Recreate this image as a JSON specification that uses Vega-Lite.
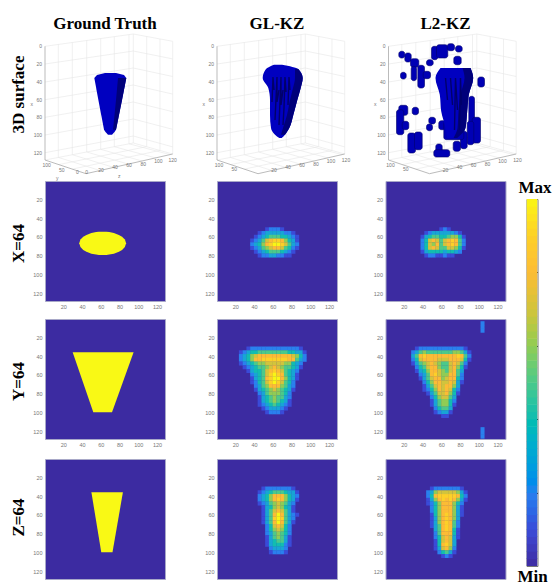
{"$schema":"https://vega.github.io/schema/vega-lite/v6.json","padding":{"left":8,"top":15,"right":0,"bottom":0},"background":"white",
"config":{"range":{"heatmap":["#3c2ba1","#3a4bd8","#2a80ee","#18a5d5","#12bdb0","#4cc98a","#90cc55","#d2c43c","#fcbc35","#fdd028","#f9f615"],"ramp":["#3c2ba1","#3a4bd8","#2a80ee","#18a5d5","#12bdb0","#4cc98a","#90cc55","#d2c43c","#fcbc35","#fdd028","#f9f615"]},"axis":{"grid":false,"domain":false,"ticks":false,"labelFontSize":5.5,"labelColor":"#777","labelPadding":3,"titleFont":"Liberation Serif","titleFontSize":17,"titleFontWeight":"bold","titleColor":"#000"},"title":{"font":"Liberation Serif","fontSize":17,"fontWeight":"bold","color":"#000","offset":-3},"legend":{"disable":true},"line":{"strokeWidth":0.6},"text":{"fontSize":5,"fill":"#777"}},
"datasets":{
"grid":[{"k":"z0","u":0,"v":16.3},{"k":"z0","u":88.3,"v":4},{"k":"z0","u":127.7,"v":11.3},{"k":"z1","u":0,"v":34},{"k":"z1","u":88.3,"v":21},{"k":"z1","u":127.7,"v":28.9},{"k":"z2","u":0,"v":52},{"k":"z2","u":88.3,"v":38},{"k":"z2","u":127.7,"v":46.5},{"k":"z3","u":0,"v":69.7},{"k":"z3","u":88.3,"v":55},{"k":"z3","u":127.7,"v":64.1},{"k":"z4","u":0,"v":87.3},{"k":"z4","u":88.3,"v":72},{"k":"z4","u":127.7,"v":81.7},{"k":"z5","u":0,"v":105},{"k":"z5","u":88.3,"v":89},{"k":"z5","u":127.7,"v":99.3},{"k":"z6","u":0,"v":122.7},{"k":"z6","u":88.3,"v":106},{"k":"z6","u":127.7,"v":116.9},{"k":"z7","u":0,"v":130},{"k":"z7","u":88.3,"v":113},{"k":"z7","u":127.7,"v":124},{"k":"a1","u":13.3,"v":14.4},{"k":"a1","u":13.3,"v":127.4},{"k":"a2","u":27.3,"v":12.5},{"k":"a2","u":27.3,"v":124.7},{"k":"a3","u":41.7,"v":10.5},{"k":"a3","u":41.7,"v":122},{"k":"a4","u":55.7,"v":8.5},{"k":"a4","u":55.7,"v":119.3},{"k":"a5","u":69.3,"v":6.7},{"k":"a5","u":69.3,"v":116.7},{"k":"a6","u":84,"v":4.6},{"k":"a6","u":84,"v":113.8},{"k":"a7","u":88.3,"v":4},{"k":"a7","u":88.3,"v":113},{"k":"a8","u":101.7,"v":6.5},{"k":"a8","u":101.7,"v":116.7},{"k":"a9","u":115,"v":9},{"k":"a9","u":115,"v":120.4},{"k":"a10","u":127.7,"v":11.3},{"k":"a10","u":127.7,"v":124},{"k":"f1","u":13.3,"v":127.4},{"k":"f1","u":55,"v":140.5},{"k":"f2","u":27.3,"v":124.7},{"k":"f2","u":69,"v":137.5},{"k":"f3","u":41.7,"v":122},{"k":"f3","u":83,"v":134},{"k":"f4","u":55.7,"v":119.3},{"k":"f4","u":97,"v":131},{"k":"f5","u":69.3,"v":116.7},{"k":"f5","u":111,"v":128},{"k":"f6","u":84,"v":113.8},{"k":"f6","u":125,"v":124.6},{"k":"h1","u":13.7,"v":134.6},{"k":"h1","u":101.4,"v":116.7},{"k":"h2","u":27.4,"v":139.1},{"k":"h2","u":115,"v":120.4}],
"axes":[{"k":"l","u":0,"v":16.3},{"k":"l","u":0,"v":130},{"k":"l","u":41,"v":143.7},{"k":"l","u":127.7,"v":124}],
"zlab":[{"u":-3,"v":16.3,"t":"0"},{"u":-3,"v":34,"t":"20"},{"u":-3,"v":52,"t":"40"},{"u":-3,"v":69.7,"t":"60"},{"u":-3,"v":87.3,"t":"80"},{"u":-3,"v":105,"t":"100"},{"u":-3,"v":122.7,"t":"120"}],
"lab1":[{"u":1.7,"v":135.3,"t":"100"},{"u":16.7,"v":139.7,"t":"50"},{"u":32.3,"v":141.7,"t":"0"},{"u":41.7,"v":142,"t":"0"},{"u":56,"v":139.7,"t":"20"},{"u":70,"v":137.3,"t":"40"},{"u":84,"v":135.3,"t":"60"},{"u":98.3,"v":133.7,"t":"80"},{"u":113.3,"v":131.3,"t":"100"},{"u":127.7,"v":129.7,"t":"120"},{"u":-13.3,"v":74,"t":"x"},{"u":12.3,"v":148,"t":"y"},{"u":74.3,"v":146.3,"t":"z"}],
"lab2":[{"u":2,"v":135.3,"t":"100"},{"u":17.3,"v":138.7,"t":"50"},{"u":57,"v":139.7,"t":"20"},{"u":71,"v":137.3,"t":"40"},{"u":85,"v":135.3,"t":"60"},{"u":99,"v":133.7,"t":"80"},{"u":114,"v":131.3,"t":"100"},{"u":129,"v":129.7,"t":"120"},{"u":-13.3,"v":74,"t":"x"}],
"cone":[{"s":"a","v":43,"u":60,"u2":71},{"s":"a","v":45,"u":52,"u2":79},{"s":"a","v":48,"u":49.3,"u2":81.3},{"s":"a","v":70,"u":53.4,"u2":77},{"s":"a","v":99.7,"u":59,"u2":71},{"s":"a","v":102,"u":60.5,"u2":69.5},{"s":"a","v":104.7,"u":63,"u2":67},{"s":"b","v":48,"u":73,"u2":81.3},{"s":"b","v":70,"u":71,"u2":77},{"s":"b","v":99.7,"u":68,"u2":71}],
"body2":[{"s":"a","v":34.7,"u":57,"u2":65},{"s":"a","v":39,"u":49,"u2":81.3},{"s":"a","v":48,"u":45.7,"u2":85.7},{"s":"a","v":58,"u":51.3,"u2":83.7},{"s":"a","v":70,"u":53,"u2":80.3},{"s":"a","v":85,"u":53,"u2":76.3},{"s":"a","v":98,"u":54,"u2":72.3},{"s":"a","v":104.7,"u":58,"u2":68},{"s":"a","v":108,"u":62.3,"u2":64.7},{"s":"b","v":39,"u":78,"u2":81.3},{"s":"b","v":48,"u":78,"u2":85.7},{"s":"b","v":58,"u":76,"u2":83.7},{"s":"b","v":70,"u":73,"u2":80.3},{"s":"b","v":85,"u":70,"u2":76.3},{"s":"b","v":98,"u":66,"u2":72.3},{"s":"b","v":104.7,"u":64,"u2":68}],
"ridge2":[{"k":"1","u":56,"v":47},{"k":"1","u":57,"v":60},{"k":"1","u":55,"v":72},{"k":"2","u":60,"v":47},{"k":"2","u":62,"v":60},{"k":"2","u":60,"v":72},{"k":"2","u":58,"v":90},{"k":"3","u":64,"v":47},{"k":"3","u":66,"v":60},{"k":"3","u":64,"v":75},{"k":"3","u":62,"v":95},{"k":"4","u":68,"v":47},{"k":"4","u":69,"v":62},{"k":"4","u":67,"v":78},{"k":"4","u":66,"v":95},{"k":"5","u":72,"v":47},{"k":"5","u":73,"v":60},{"k":"5","u":71,"v":75}],
"body3":[{"s":"a","v":38,"u":52,"u2":82},{"s":"a","v":48,"u":47,"u2":84.7},{"s":"a","v":64.7,"u":51.3,"u2":80.3},{"s":"a","v":81.3,"u":52.7,"u2":78.7},{"s":"a","v":98,"u":57,"u2":77},{"s":"a","v":108,"u":58.7,"u2":68.7},{"s":"b","v":38,"u":74,"u2":82},{"s":"b","v":48,"u":76,"u2":84.7},{"s":"b","v":64.7,"u":72,"u2":80.3},{"s":"b","v":81.3,"u":70,"u2":78.7},{"s":"b","v":98,"u":69,"u2":77},{"s":"b","v":108,"u":65,"u2":68.7}],
"ridge3":[{"k":"1","u":57,"v":48},{"k":"1","u":59,"v":70},{"k":"2","u":62,"v":48},{"k":"2","u":64,"v":75},{"k":"3","u":67,"v":48},{"k":"3","u":69,"v":80},{"k":"3","u":66,"v":100},{"k":"4","u":72,"v":48},{"k":"4","u":73,"v":75},{"k":"4","u":71,"v":100}],
"blobs":[{"u":10.3,"u2":16.3,"v":21.3,"v2":28},{"u":16.3,"u2":22.7,"v":23,"v2":32},{"u":22,"u2":30.3,"v":28.7,"v2":37.3},{"u":22.7,"u2":28,"v":36.3,"v2":50.7},{"u":29.3,"u2":36,"v":35.3,"v2":58},{"u":34.7,"u2":42,"v":41.3,"v2":48.7},{"u":12,"u2":17.7,"v":42.3,"v2":49},{"u":38,"u2":44.7,"v":29.7,"v2":35.7},{"u":43,"u2":49.3,"v":16.3,"v2":29.7},{"u":48,"u2":59.3,"v":14.7,"v2":28},{"u":58.7,"u2":66,"v":13.7,"v2":20.7},{"u":67,"u2":73.7,"v":15.7,"v2":22},{"u":65.3,"u2":72.7,"v":26.3,"v2":34.7},{"u":89.3,"u2":96,"v":47,"v2":57},{"u":10.3,"u2":19.3,"v":75.3,"v2":85.3},{"u":8,"u2":15.3,"v":79.7,"v2":104.7},{"u":13.7,"u2":20.3,"v":91.3,"v2":99.7},{"u":23.7,"u2":30,"v":77.3,"v2":84.7},{"u":40.3,"u2":47,"v":87.3,"v2":94},{"u":38,"u2":44,"v":94,"v2":100.7},{"u":19.3,"u2":27,"v":103,"v2":123},{"u":26,"u2":33.7,"v":102,"v2":119.7},{"u":47.3,"u2":53.7,"v":114,"v2":126.3},{"u":45.3,"u2":61.3,"v":119.7,"v2":127},{"u":50.3,"u2":57,"v":90.7,"v2":99.7},{"u":80.3,"u2":86,"v":66.3,"v2":94.7},{"u":83.7,"u2":92,"v":87.3,"v2":113},{"u":78.7,"u2":85.3,"v":91.3,"v2":114.7},{"u":72,"u2":78.7,"v":101.3,"v2":118.7},{"u":64.7,"u2":72,"v":111.3,"v2":121.3},{"u":55.3,"u2":75.3,"v":91.3,"v2":109.7}],
"ell":[{"y":54.6,"x":58,"x2":66},{"y":55,"x":55,"x2":69},{"y":56,"x":50,"x2":74},{"y":58,"x":44.7,"x2":79.3},{"y":60,"x":41.3,"x2":82.7},{"y":63,"x":38.3,"x2":85.7},{"y":67,"x":37,"x2":87},{"y":71,"x":38.3,"x2":85.7},{"y":74,"x":41.3,"x2":82.7},{"y":76,"x":44.7,"x2":79.3},{"y":78,"x":50,"x2":74},{"y":79,"x":55,"x2":69},{"y":79.4,"x":58,"x2":66}],
"ty":[{"y":36,"x":30,"x2":95},{"y":100,"x":52,"x2":72}],
"tz":[{"y":36,"x":50,"x2":83.6},{"y":100,"x":60.5,"x2":72.5}],
"xg":[{"x":54,"y":52,"v":1},{"x":58,"y":52,"v":2},{"x":62,"y":52,"v":2},{"x":66,"y":52,"v":2},{"x":70,"y":52,"v":1},{"x":46,"y":56,"v":1},{"x":50,"y":56,"v":2},{"x":54,"y":56,"v":3},{"x":58,"y":56,"v":3},{"x":62,"y":56,"v":3},{"x":66,"y":56,"v":3},{"x":70,"y":56,"v":3},{"x":74,"y":56,"v":2},{"x":78,"y":56,"v":2},{"x":82,"y":56,"v":1},{"x":42,"y":60,"v":1},{"x":46,"y":60,"v":2},{"x":50,"y":60,"v":3},{"x":54,"y":60,"v":4},{"x":58,"y":60,"v":5},{"x":62,"y":60,"v":5},{"x":66,"y":60,"v":5},{"x":70,"y":60,"v":4},{"x":74,"y":60,"v":4},{"x":78,"y":60,"v":3},{"x":82,"y":60,"v":2},{"x":86,"y":60,"v":1},{"x":38,"y":64,"v":1},{"x":42,"y":64,"v":2},{"x":46,"y":64,"v":3},{"x":50,"y":64,"v":5},{"x":54,"y":64,"v":7},{"x":58,"y":64,"v":8},{"x":62,"y":64,"v":9},{"x":66,"y":64,"v":9},{"x":70,"y":64,"v":8},{"x":74,"y":64,"v":6},{"x":78,"y":64,"v":4},{"x":82,"y":64,"v":3},{"x":86,"y":64,"v":1},{"x":38,"y":68,"v":2},{"x":42,"y":68,"v":3},{"x":46,"y":68,"v":4},{"x":50,"y":68,"v":6},{"x":54,"y":68,"v":8},{"x":58,"y":68,"v":9},{"x":62,"y":68,"v":10},{"x":66,"y":68,"v":10},{"x":70,"y":68,"v":9},{"x":74,"y":68,"v":7},{"x":78,"y":68,"v":5},{"x":82,"y":68,"v":3},{"x":86,"y":68,"v":2},{"x":38,"y":72,"v":1},{"x":42,"y":72,"v":2},{"x":46,"y":72,"v":3},{"x":50,"y":72,"v":5},{"x":54,"y":72,"v":6},{"x":58,"y":72,"v":7},{"x":62,"y":72,"v":8},{"x":66,"y":72,"v":8},{"x":70,"y":72,"v":7},{"x":74,"y":72,"v":5},{"x":78,"y":72,"v":4},{"x":82,"y":72,"v":2},{"x":86,"y":72,"v":1},{"x":42,"y":76,"v":1},{"x":46,"y":76,"v":2},{"x":50,"y":76,"v":3},{"x":54,"y":76,"v":4},{"x":58,"y":76,"v":5},{"x":62,"y":76,"v":5},{"x":66,"y":76,"v":5},{"x":70,"y":76,"v":4},{"x":74,"y":76,"v":3},{"x":78,"y":76,"v":2},{"x":82,"y":76,"v":1},{"x":46,"y":80,"v":1},{"x":50,"y":80,"v":2},{"x":54,"y":80,"v":2},{"x":58,"y":80,"v":3},{"x":62,"y":80,"v":3},{"x":66,"y":80,"v":2},{"x":70,"y":80,"v":2},{"x":74,"y":80,"v":1},{"x":78,"y":80,"v":1}],
"xl":[{"x":60,"y":52,"v":1},{"x":64,"y":52,"v":2},{"x":68,"y":52,"v":1},{"x":44,"y":56,"v":1},{"x":48,"y":56,"v":2},{"x":52,"y":56,"v":3},{"x":56,"y":56,"v":3},{"x":60,"y":56,"v":3},{"x":64,"y":56,"v":3},{"x":68,"y":56,"v":3},{"x":72,"y":56,"v":3},{"x":76,"y":56,"v":2},{"x":80,"y":56,"v":1},{"x":40,"y":60,"v":1},{"x":44,"y":60,"v":3},{"x":48,"y":60,"v":4},{"x":52,"y":60,"v":5},{"x":56,"y":60,"v":5},{"x":60,"y":60,"v":4},{"x":64,"y":60,"v":4},{"x":68,"y":60,"v":5},{"x":72,"y":60,"v":6},{"x":76,"y":60,"v":6},{"x":80,"y":60,"v":4},{"x":84,"y":60,"v":1},{"x":40,"y":64,"v":2},{"x":44,"y":64,"v":4},{"x":48,"y":64,"v":7},{"x":52,"y":64,"v":8},{"x":56,"y":64,"v":7},{"x":60,"y":64,"v":5},{"x":64,"y":64,"v":7},{"x":68,"y":64,"v":8},{"x":72,"y":64,"v":9},{"x":76,"y":64,"v":8},{"x":80,"y":64,"v":5},{"x":84,"y":64,"v":2},{"x":40,"y":68,"v":2},{"x":44,"y":68,"v":4},{"x":48,"y":68,"v":7},{"x":52,"y":68,"v":6},{"x":56,"y":68,"v":8},{"x":60,"y":68,"v":5},{"x":64,"y":68,"v":7},{"x":68,"y":68,"v":8},{"x":72,"y":68,"v":9},{"x":76,"y":68,"v":8},{"x":80,"y":68,"v":5},{"x":84,"y":68,"v":2},{"x":40,"y":72,"v":2},{"x":44,"y":72,"v":4},{"x":48,"y":72,"v":7},{"x":52,"y":72,"v":8},{"x":56,"y":72,"v":7},{"x":60,"y":72,"v":5},{"x":64,"y":72,"v":5},{"x":68,"y":72,"v":7},{"x":72,"y":72,"v":7},{"x":76,"y":72,"v":6},{"x":80,"y":72,"v":4},{"x":84,"y":72,"v":1},{"x":40,"y":76,"v":1},{"x":44,"y":76,"v":3},{"x":48,"y":76,"v":4},{"x":52,"y":76,"v":4},{"x":56,"y":76,"v":4},{"x":60,"y":76,"v":4},{"x":64,"y":76,"v":3},{"x":68,"y":76,"v":4},{"x":72,"y":76,"v":4},{"x":76,"y":76,"v":3},{"x":80,"y":76,"v":2},{"x":44,"y":80,"v":1},{"x":48,"y":80,"v":2},{"x":52,"y":80,"v":2},{"x":56,"y":80,"v":1},{"x":60,"y":80,"v":1},{"x":64,"y":80,"v":2},{"x":68,"y":80,"v":1},{"x":72,"y":80,"v":1}],
"yg":[{"x":34,"y":32,"v":1},{"x":38,"y":32,"v":2},{"x":42,"y":32,"v":2},{"x":46,"y":32,"v":2},{"x":50,"y":32,"v":2},{"x":54,"y":32,"v":2},{"x":58,"y":32,"v":2},{"x":62,"y":32,"v":2},{"x":66,"y":32,"v":2},{"x":70,"y":32,"v":2},{"x":74,"y":32,"v":2},{"x":78,"y":32,"v":2},{"x":82,"y":32,"v":2},{"x":86,"y":32,"v":2},{"x":90,"y":32,"v":1},{"x":26,"y":36,"v":1},{"x":30,"y":36,"v":2},{"x":34,"y":36,"v":3},{"x":38,"y":36,"v":4},{"x":42,"y":36,"v":4},{"x":46,"y":36,"v":5},{"x":50,"y":36,"v":5},{"x":54,"y":36,"v":5},{"x":58,"y":36,"v":5},{"x":62,"y":36,"v":5},{"x":66,"y":36,"v":5},{"x":70,"y":36,"v":5},{"x":74,"y":36,"v":5},{"x":78,"y":36,"v":4},{"x":82,"y":36,"v":4},{"x":86,"y":36,"v":3},{"x":90,"y":36,"v":3},{"x":94,"y":36,"v":1},{"x":26,"y":40,"v":2},{"x":30,"y":40,"v":3},{"x":34,"y":40,"v":4},{"x":38,"y":40,"v":6},{"x":42,"y":40,"v":7},{"x":46,"y":40,"v":8},{"x":50,"y":40,"v":8},{"x":54,"y":40,"v":8},{"x":58,"y":40,"v":8},{"x":62,"y":40,"v":8},{"x":66,"y":40,"v":8},{"x":70,"y":40,"v":8},{"x":74,"y":40,"v":8},{"x":78,"y":40,"v":8},{"x":82,"y":40,"v":7},{"x":86,"y":40,"v":6},{"x":90,"y":40,"v":4},{"x":94,"y":40,"v":2},{"x":26,"y":44,"v":2},{"x":30,"y":44,"v":3},{"x":34,"y":44,"v":4},{"x":38,"y":44,"v":6},{"x":42,"y":44,"v":8},{"x":46,"y":44,"v":8},{"x":50,"y":44,"v":9},{"x":54,"y":44,"v":9},{"x":58,"y":44,"v":9},{"x":62,"y":44,"v":9},{"x":66,"y":44,"v":9},{"x":70,"y":44,"v":9},{"x":74,"y":44,"v":9},{"x":78,"y":44,"v":8},{"x":82,"y":44,"v":8},{"x":86,"y":44,"v":5},{"x":90,"y":44,"v":3},{"x":94,"y":44,"v":2},{"x":26,"y":48,"v":1},{"x":30,"y":48,"v":2},{"x":34,"y":48,"v":3},{"x":38,"y":48,"v":4},{"x":42,"y":48,"v":5},{"x":46,"y":48,"v":6},{"x":50,"y":48,"v":6},{"x":54,"y":48,"v":7},{"x":58,"y":48,"v":7},{"x":62,"y":48,"v":7},{"x":66,"y":48,"v":7},{"x":70,"y":48,"v":7},{"x":74,"y":48,"v":6},{"x":78,"y":48,"v":6},{"x":82,"y":48,"v":4},{"x":86,"y":48,"v":3},{"x":90,"y":48,"v":2},{"x":30,"y":52,"v":1},{"x":34,"y":52,"v":2},{"x":38,"y":52,"v":3},{"x":42,"y":52,"v":4},{"x":46,"y":52,"v":5},{"x":50,"y":52,"v":5},{"x":54,"y":52,"v":6},{"x":58,"y":52,"v":7},{"x":62,"y":52,"v":8},{"x":66,"y":52,"v":7},{"x":70,"y":52,"v":6},{"x":74,"y":52,"v":5},{"x":78,"y":52,"v":5},{"x":82,"y":52,"v":4},{"x":86,"y":52,"v":3},{"x":90,"y":52,"v":1},{"x":34,"y":56,"v":1},{"x":38,"y":56,"v":3},{"x":42,"y":56,"v":4},{"x":46,"y":56,"v":4},{"x":50,"y":56,"v":5},{"x":54,"y":56,"v":7},{"x":58,"y":56,"v":8},{"x":62,"y":56,"v":9},{"x":66,"y":56,"v":8},{"x":70,"y":56,"v":7},{"x":74,"y":56,"v":5},{"x":78,"y":56,"v":4},{"x":82,"y":56,"v":3},{"x":86,"y":56,"v":2},{"x":38,"y":60,"v":2},{"x":42,"y":60,"v":3},{"x":46,"y":60,"v":4},{"x":50,"y":60,"v":5},{"x":54,"y":60,"v":7},{"x":58,"y":60,"v":9},{"x":62,"y":60,"v":10},{"x":66,"y":60,"v":9},{"x":70,"y":60,"v":8},{"x":74,"y":60,"v":5},{"x":78,"y":60,"v":4},{"x":82,"y":60,"v":3},{"x":86,"y":60,"v":1},{"x":38,"y":64,"v":1},{"x":42,"y":64,"v":3},{"x":46,"y":64,"v":4},{"x":50,"y":64,"v":5},{"x":54,"y":64,"v":8},{"x":58,"y":64,"v":9},{"x":62,"y":64,"v":10},{"x":66,"y":64,"v":10},{"x":70,"y":64,"v":8},{"x":74,"y":64,"v":6},{"x":78,"y":64,"v":4},{"x":82,"y":64,"v":3},{"x":86,"y":64,"v":1},{"x":38,"y":68,"v":1},{"x":42,"y":68,"v":2},{"x":46,"y":68,"v":4},{"x":50,"y":68,"v":5},{"x":54,"y":68,"v":7},{"x":58,"y":68,"v":9},{"x":62,"y":68,"v":10},{"x":66,"y":68,"v":9},{"x":70,"y":68,"v":7},{"x":74,"y":68,"v":5},{"x":78,"y":68,"v":4},{"x":82,"y":68,"v":2},{"x":42,"y":72,"v":2},{"x":46,"y":72,"v":3},{"x":50,"y":72,"v":5},{"x":54,"y":72,"v":6},{"x":58,"y":72,"v":8},{"x":62,"y":72,"v":8},{"x":66,"y":72,"v":8},{"x":70,"y":72,"v":6},{"x":74,"y":72,"v":5},{"x":78,"y":72,"v":3},{"x":82,"y":72,"v":2},{"x":42,"y":76,"v":1},{"x":46,"y":76,"v":3},{"x":50,"y":76,"v":4},{"x":54,"y":76,"v":5},{"x":58,"y":76,"v":6},{"x":62,"y":76,"v":7},{"x":66,"y":76,"v":6},{"x":70,"y":76,"v":5},{"x":74,"y":76,"v":4},{"x":78,"y":76,"v":3},{"x":82,"y":76,"v":1},{"x":46,"y":80,"v":2},{"x":50,"y":80,"v":3},{"x":54,"y":80,"v":5},{"x":58,"y":80,"v":6},{"x":62,"y":80,"v":6},{"x":66,"y":80,"v":6},{"x":70,"y":80,"v":5},{"x":74,"y":80,"v":4},{"x":78,"y":80,"v":2},{"x":46,"y":84,"v":1},{"x":50,"y":84,"v":3},{"x":54,"y":84,"v":4},{"x":58,"y":84,"v":5},{"x":62,"y":84,"v":6},{"x":66,"y":84,"v":5},{"x":70,"y":84,"v":5},{"x":74,"y":84,"v":3},{"x":78,"y":84,"v":2},{"x":46,"y":88,"v":1},{"x":50,"y":88,"v":3},{"x":54,"y":88,"v":4},{"x":58,"y":88,"v":5},{"x":62,"y":88,"v":6},{"x":66,"y":88,"v":5},{"x":70,"y":88,"v":4},{"x":74,"y":88,"v":3},{"x":78,"y":88,"v":1},{"x":46,"y":92,"v":1},{"x":50,"y":92,"v":2},{"x":54,"y":92,"v":3},{"x":58,"y":92,"v":4},{"x":62,"y":92,"v":5},{"x":66,"y":92,"v":4},{"x":70,"y":92,"v":3},{"x":74,"y":92,"v":2},{"x":78,"y":92,"v":1},{"x":50,"y":96,"v":1},{"x":54,"y":96,"v":2},{"x":58,"y":96,"v":3},{"x":62,"y":96,"v":3},{"x":66,"y":96,"v":3},{"x":70,"y":96,"v":2},{"x":74,"y":96,"v":1},{"x":54,"y":100,"v":1},{"x":58,"y":100,"v":2},{"x":62,"y":100,"v":2},{"x":66,"y":100,"v":2},{"x":70,"y":100,"v":1}],
"yl":[{"x":104,"y":5,"v":2},{"x":104,"y":9,"v":2},{"x":104,"y":13,"v":2},{"x":104,"y":118,"v":2},{"x":104,"y":122,"v":2},{"x":104,"y":126,"v":2},{"x":34,"y":32,"v":1},{"x":38,"y":32,"v":2},{"x":42,"y":32,"v":2},{"x":46,"y":32,"v":2},{"x":50,"y":32,"v":2},{"x":54,"y":32,"v":2},{"x":58,"y":32,"v":2},{"x":62,"y":32,"v":2},{"x":66,"y":32,"v":2},{"x":70,"y":32,"v":2},{"x":74,"y":32,"v":2},{"x":78,"y":32,"v":2},{"x":82,"y":32,"v":2},{"x":86,"y":32,"v":1},{"x":30,"y":36,"v":2},{"x":34,"y":36,"v":3},{"x":38,"y":36,"v":5},{"x":42,"y":36,"v":6},{"x":46,"y":36,"v":5},{"x":50,"y":36,"v":5},{"x":54,"y":36,"v":5},{"x":58,"y":36,"v":5},{"x":62,"y":36,"v":5},{"x":66,"y":36,"v":5},{"x":70,"y":36,"v":5},{"x":74,"y":36,"v":6},{"x":78,"y":36,"v":6},{"x":82,"y":36,"v":5},{"x":86,"y":36,"v":3},{"x":90,"y":36,"v":1},{"x":30,"y":40,"v":3},{"x":34,"y":40,"v":5},{"x":38,"y":40,"v":8},{"x":42,"y":40,"v":9},{"x":46,"y":40,"v":8},{"x":50,"y":40,"v":8},{"x":54,"y":40,"v":8},{"x":58,"y":40,"v":8},{"x":62,"y":40,"v":8},{"x":66,"y":40,"v":8},{"x":70,"y":40,"v":8},{"x":74,"y":40,"v":8},{"x":78,"y":40,"v":9},{"x":82,"y":40,"v":8},{"x":86,"y":40,"v":5},{"x":90,"y":40,"v":2},{"x":30,"y":44,"v":2},{"x":34,"y":44,"v":4},{"x":38,"y":44,"v":7},{"x":42,"y":44,"v":8},{"x":46,"y":44,"v":8},{"x":50,"y":44,"v":8},{"x":54,"y":44,"v":8},{"x":58,"y":44,"v":7},{"x":62,"y":44,"v":7},{"x":66,"y":44,"v":7},{"x":70,"y":44,"v":8},{"x":74,"y":44,"v":8},{"x":78,"y":44,"v":8},{"x":82,"y":44,"v":7},{"x":86,"y":44,"v":4},{"x":90,"y":44,"v":1},{"x":30,"y":48,"v":1},{"x":34,"y":48,"v":3},{"x":38,"y":48,"v":5},{"x":42,"y":48,"v":6},{"x":46,"y":48,"v":7},{"x":50,"y":48,"v":8},{"x":54,"y":48,"v":7},{"x":58,"y":48,"v":6},{"x":62,"y":48,"v":5},{"x":66,"y":48,"v":5},{"x":70,"y":48,"v":7},{"x":74,"y":48,"v":8},{"x":78,"y":48,"v":7},{"x":82,"y":48,"v":5},{"x":86,"y":48,"v":2},{"x":34,"y":52,"v":2},{"x":38,"y":52,"v":4},{"x":42,"y":52,"v":5},{"x":46,"y":52,"v":7},{"x":50,"y":52,"v":8},{"x":54,"y":52,"v":8},{"x":58,"y":52,"v":6},{"x":62,"y":52,"v":5},{"x":66,"y":52,"v":5},{"x":70,"y":52,"v":7},{"x":74,"y":52,"v":8},{"x":78,"y":52,"v":6},{"x":82,"y":52,"v":4},{"x":86,"y":52,"v":1},{"x":34,"y":56,"v":1},{"x":38,"y":56,"v":3},{"x":42,"y":56,"v":4},{"x":46,"y":56,"v":6},{"x":50,"y":56,"v":8},{"x":54,"y":56,"v":8},{"x":58,"y":56,"v":7},{"x":62,"y":56,"v":6},{"x":66,"y":56,"v":5},{"x":70,"y":56,"v":7},{"x":74,"y":56,"v":8},{"x":78,"y":56,"v":5},{"x":82,"y":56,"v":3},{"x":38,"y":60,"v":2},{"x":42,"y":60,"v":3},{"x":46,"y":60,"v":5},{"x":50,"y":60,"v":8},{"x":54,"y":60,"v":9},{"x":58,"y":60,"v":7},{"x":62,"y":60,"v":6},{"x":66,"y":60,"v":6},{"x":70,"y":60,"v":8},{"x":74,"y":60,"v":8},{"x":78,"y":60,"v":5},{"x":82,"y":60,"v":2},{"x":38,"y":64,"v":1},{"x":42,"y":64,"v":3},{"x":46,"y":64,"v":5},{"x":50,"y":64,"v":7},{"x":54,"y":64,"v":8},{"x":58,"y":64,"v":8},{"x":62,"y":64,"v":6},{"x":66,"y":64,"v":7},{"x":70,"y":64,"v":8},{"x":74,"y":64,"v":8},{"x":78,"y":64,"v":4},{"x":82,"y":64,"v":2},{"x":42,"y":68,"v":2},{"x":46,"y":68,"v":4},{"x":50,"y":68,"v":6},{"x":54,"y":68,"v":8},{"x":58,"y":68,"v":8},{"x":62,"y":68,"v":7},{"x":66,"y":68,"v":7},{"x":70,"y":68,"v":8},{"x":74,"y":68,"v":7},{"x":78,"y":68,"v":3},{"x":82,"y":68,"v":1},{"x":42,"y":72,"v":1},{"x":46,"y":72,"v":3},{"x":50,"y":72,"v":5},{"x":54,"y":72,"v":7},{"x":58,"y":72,"v":8},{"x":62,"y":72,"v":7},{"x":66,"y":72,"v":8},{"x":70,"y":72,"v":8},{"x":74,"y":72,"v":6},{"x":78,"y":72,"v":3},{"x":42,"y":76,"v":1},{"x":46,"y":76,"v":2},{"x":50,"y":76,"v":4},{"x":54,"y":76,"v":6},{"x":58,"y":76,"v":8},{"x":62,"y":76,"v":7},{"x":66,"y":76,"v":8},{"x":70,"y":76,"v":7},{"x":74,"y":76,"v":4},{"x":78,"y":76,"v":2},{"x":46,"y":80,"v":1},{"x":50,"y":80,"v":3},{"x":54,"y":80,"v":5},{"x":58,"y":80,"v":7},{"x":62,"y":80,"v":7},{"x":66,"y":80,"v":8},{"x":70,"y":80,"v":6},{"x":74,"y":80,"v":4},{"x":78,"y":80,"v":1},{"x":50,"y":84,"v":2},{"x":54,"y":84,"v":4},{"x":58,"y":84,"v":6},{"x":62,"y":84,"v":7},{"x":66,"y":84,"v":7},{"x":70,"y":84,"v":5},{"x":74,"y":84,"v":3},{"x":50,"y":88,"v":1},{"x":54,"y":88,"v":3},{"x":58,"y":88,"v":5},{"x":62,"y":88,"v":6},{"x":66,"y":88,"v":6},{"x":70,"y":88,"v":4},{"x":74,"y":88,"v":2},{"x":50,"y":92,"v":1},{"x":54,"y":92,"v":3},{"x":58,"y":92,"v":5},{"x":62,"y":92,"v":6},{"x":66,"y":92,"v":6},{"x":70,"y":92,"v":4},{"x":74,"y":92,"v":1},{"x":54,"y":96,"v":2},{"x":58,"y":96,"v":4},{"x":62,"y":96,"v":5},{"x":66,"y":96,"v":5},{"x":70,"y":96,"v":3},{"x":54,"y":100,"v":1},{"x":58,"y":100,"v":2},{"x":62,"y":100,"v":3},{"x":66,"y":100,"v":3},{"x":70,"y":100,"v":1},{"x":62,"y":104,"v":1},{"x":66,"y":104,"v":1}],
"zg":[{"x":50,"y":32,"v":1},{"x":54,"y":32,"v":2},{"x":58,"y":32,"v":2},{"x":62,"y":32,"v":2},{"x":66,"y":32,"v":2},{"x":70,"y":32,"v":2},{"x":74,"y":32,"v":2},{"x":78,"y":32,"v":2},{"x":82,"y":32,"v":1},{"x":46,"y":36,"v":1},{"x":50,"y":36,"v":2},{"x":54,"y":36,"v":3},{"x":58,"y":36,"v":4},{"x":62,"y":36,"v":5},{"x":66,"y":36,"v":5},{"x":70,"y":36,"v":5},{"x":74,"y":36,"v":4},{"x":78,"y":36,"v":3},{"x":82,"y":36,"v":3},{"x":86,"y":36,"v":1},{"x":46,"y":40,"v":2},{"x":50,"y":40,"v":3},{"x":54,"y":40,"v":4},{"x":58,"y":40,"v":6},{"x":62,"y":40,"v":8},{"x":66,"y":40,"v":8},{"x":70,"y":40,"v":8},{"x":74,"y":40,"v":6},{"x":78,"y":40,"v":4},{"x":82,"y":40,"v":3},{"x":86,"y":40,"v":2},{"x":46,"y":44,"v":2},{"x":50,"y":44,"v":3},{"x":54,"y":44,"v":4},{"x":58,"y":44,"v":6},{"x":62,"y":44,"v":8},{"x":66,"y":44,"v":9},{"x":70,"y":44,"v":8},{"x":74,"y":44,"v":6},{"x":78,"y":44,"v":4},{"x":82,"y":44,"v":3},{"x":86,"y":44,"v":1},{"x":46,"y":48,"v":1},{"x":50,"y":48,"v":2},{"x":54,"y":48,"v":3},{"x":58,"y":48,"v":5},{"x":62,"y":48,"v":6},{"x":66,"y":48,"v":7},{"x":70,"y":48,"v":6},{"x":74,"y":48,"v":5},{"x":78,"y":48,"v":3},{"x":82,"y":48,"v":2},{"x":50,"y":52,"v":1},{"x":54,"y":52,"v":3},{"x":58,"y":52,"v":4},{"x":62,"y":52,"v":6},{"x":66,"y":52,"v":7},{"x":70,"y":52,"v":6},{"x":74,"y":52,"v":4},{"x":78,"y":52,"v":3},{"x":82,"y":52,"v":1},{"x":50,"y":56,"v":1},{"x":54,"y":56,"v":3},{"x":58,"y":56,"v":5},{"x":62,"y":56,"v":7},{"x":66,"y":56,"v":8},{"x":70,"y":56,"v":7},{"x":74,"y":56,"v":5},{"x":78,"y":56,"v":3},{"x":82,"y":56,"v":1},{"x":50,"y":60,"v":1},{"x":54,"y":60,"v":3},{"x":58,"y":60,"v":5},{"x":62,"y":60,"v":8},{"x":66,"y":60,"v":10},{"x":70,"y":60,"v":8},{"x":74,"y":60,"v":5},{"x":78,"y":60,"v":3},{"x":82,"y":60,"v":2},{"x":86,"y":60,"v":1},{"x":50,"y":64,"v":1},{"x":54,"y":64,"v":3},{"x":58,"y":64,"v":5},{"x":62,"y":64,"v":9},{"x":66,"y":64,"v":10},{"x":70,"y":64,"v":9},{"x":74,"y":64,"v":5},{"x":78,"y":64,"v":3},{"x":82,"y":64,"v":2},{"x":50,"y":68,"v":1},{"x":54,"y":68,"v":3},{"x":58,"y":68,"v":5},{"x":62,"y":68,"v":8},{"x":66,"y":68,"v":10},{"x":70,"y":68,"v":8},{"x":74,"y":68,"v":5},{"x":78,"y":68,"v":3},{"x":82,"y":68,"v":1},{"x":54,"y":72,"v":2},{"x":58,"y":72,"v":4},{"x":62,"y":72,"v":7},{"x":66,"y":72,"v":8},{"x":70,"y":72,"v":7},{"x":74,"y":72,"v":4},{"x":78,"y":72,"v":2},{"x":54,"y":76,"v":2},{"x":58,"y":76,"v":4},{"x":62,"y":76,"v":6},{"x":66,"y":76,"v":7},{"x":70,"y":76,"v":6},{"x":74,"y":76,"v":4},{"x":78,"y":76,"v":2},{"x":54,"y":80,"v":2},{"x":58,"y":80,"v":3},{"x":62,"y":80,"v":5},{"x":66,"y":80,"v":6},{"x":70,"y":80,"v":5},{"x":74,"y":80,"v":4},{"x":78,"y":80,"v":2},{"x":54,"y":84,"v":1},{"x":58,"y":84,"v":3},{"x":62,"y":84,"v":5},{"x":66,"y":84,"v":6},{"x":70,"y":84,"v":5},{"x":74,"y":84,"v":3},{"x":78,"y":84,"v":1},{"x":54,"y":88,"v":1},{"x":58,"y":88,"v":3},{"x":62,"y":88,"v":4},{"x":66,"y":88,"v":5},{"x":70,"y":88,"v":5},{"x":74,"y":88,"v":3},{"x":78,"y":88,"v":1},{"x":54,"y":92,"v":1},{"x":58,"y":92,"v":3},{"x":62,"y":92,"v":4},{"x":66,"y":92,"v":4},{"x":70,"y":92,"v":4},{"x":74,"y":92,"v":2},{"x":78,"y":92,"v":1},{"x":58,"y":96,"v":2},{"x":62,"y":96,"v":3},{"x":66,"y":96,"v":3},{"x":70,"y":96,"v":3},{"x":74,"y":96,"v":2},{"x":58,"y":100,"v":1},{"x":62,"y":100,"v":2},{"x":66,"y":100,"v":2},{"x":70,"y":100,"v":2},{"x":74,"y":100,"v":1}],
"zl":[{"x":50,"y":32,"v":1},{"x":54,"y":32,"v":2},{"x":58,"y":32,"v":2},{"x":62,"y":32,"v":2},{"x":66,"y":32,"v":2},{"x":70,"y":32,"v":2},{"x":74,"y":32,"v":2},{"x":78,"y":32,"v":2},{"x":82,"y":32,"v":1},{"x":46,"y":36,"v":2},{"x":50,"y":36,"v":3},{"x":54,"y":36,"v":6},{"x":58,"y":36,"v":7},{"x":62,"y":36,"v":7},{"x":66,"y":36,"v":7},{"x":70,"y":36,"v":7},{"x":74,"y":36,"v":7},{"x":78,"y":36,"v":6},{"x":82,"y":36,"v":3},{"x":86,"y":36,"v":1},{"x":46,"y":40,"v":2},{"x":50,"y":40,"v":4},{"x":54,"y":40,"v":8},{"x":58,"y":40,"v":9},{"x":62,"y":40,"v":9},{"x":66,"y":40,"v":9},{"x":70,"y":40,"v":9},{"x":74,"y":40,"v":9},{"x":78,"y":40,"v":8},{"x":82,"y":40,"v":4},{"x":86,"y":40,"v":2},{"x":46,"y":44,"v":1},{"x":50,"y":44,"v":3},{"x":54,"y":44,"v":6},{"x":58,"y":44,"v":8},{"x":62,"y":44,"v":9},{"x":66,"y":44,"v":8},{"x":70,"y":44,"v":9},{"x":74,"y":44,"v":8},{"x":78,"y":44,"v":6},{"x":82,"y":44,"v":3},{"x":86,"y":44,"v":1},{"x":46,"y":48,"v":1},{"x":50,"y":48,"v":2},{"x":54,"y":48,"v":4},{"x":58,"y":48,"v":6},{"x":62,"y":48,"v":8},{"x":66,"y":48,"v":8},{"x":70,"y":48,"v":8},{"x":74,"y":48,"v":6},{"x":78,"y":48,"v":4},{"x":82,"y":48,"v":2},{"x":50,"y":52,"v":2},{"x":54,"y":52,"v":4},{"x":58,"y":52,"v":6},{"x":62,"y":52,"v":8},{"x":66,"y":52,"v":8},{"x":70,"y":52,"v":8},{"x":74,"y":52,"v":6},{"x":78,"y":52,"v":3},{"x":82,"y":52,"v":1},{"x":50,"y":56,"v":2},{"x":54,"y":56,"v":4},{"x":58,"y":56,"v":6},{"x":62,"y":56,"v":8},{"x":66,"y":56,"v":8},{"x":70,"y":56,"v":8},{"x":74,"y":56,"v":6},{"x":78,"y":56,"v":3},{"x":82,"y":56,"v":1},{"x":50,"y":60,"v":1},{"x":54,"y":60,"v":4},{"x":58,"y":60,"v":6},{"x":62,"y":60,"v":8},{"x":66,"y":60,"v":9},{"x":70,"y":60,"v":8},{"x":74,"y":60,"v":6},{"x":78,"y":60,"v":3},{"x":82,"y":60,"v":1},{"x":50,"y":64,"v":1},{"x":54,"y":64,"v":3},{"x":58,"y":64,"v":6},{"x":62,"y":64,"v":8},{"x":66,"y":64,"v":9},{"x":70,"y":64,"v":8},{"x":74,"y":64,"v":6},{"x":78,"y":64,"v":3},{"x":50,"y":68,"v":1},{"x":54,"y":68,"v":3},{"x":58,"y":68,"v":6},{"x":62,"y":68,"v":8},{"x":66,"y":68,"v":9},{"x":70,"y":68,"v":8},{"x":74,"y":68,"v":5},{"x":78,"y":68,"v":2},{"x":50,"y":72,"v":1},{"x":54,"y":72,"v":3},{"x":58,"y":72,"v":5},{"x":62,"y":72,"v":8},{"x":66,"y":72,"v":9},{"x":70,"y":72,"v":8},{"x":74,"y":72,"v":5},{"x":78,"y":72,"v":2},{"x":54,"y":76,"v":3},{"x":58,"y":76,"v":5},{"x":62,"y":76,"v":8},{"x":66,"y":76,"v":9},{"x":70,"y":76,"v":8},{"x":74,"y":76,"v":4},{"x":78,"y":76,"v":1},{"x":54,"y":80,"v":2},{"x":58,"y":80,"v":5},{"x":62,"y":80,"v":8},{"x":66,"y":80,"v":8},{"x":70,"y":80,"v":8},{"x":74,"y":80,"v":4},{"x":78,"y":80,"v":1},{"x":54,"y":84,"v":2},{"x":58,"y":84,"v":4},{"x":62,"y":84,"v":7},{"x":66,"y":84,"v":8},{"x":70,"y":84,"v":7},{"x":74,"y":84,"v":3},{"x":78,"y":84,"v":1},{"x":54,"y":88,"v":1},{"x":58,"y":88,"v":4},{"x":62,"y":88,"v":7},{"x":66,"y":88,"v":8},{"x":70,"y":88,"v":7},{"x":74,"y":88,"v":3},{"x":54,"y":92,"v":1},{"x":58,"y":92,"v":4},{"x":62,"y":92,"v":8},{"x":66,"y":92,"v":9},{"x":70,"y":92,"v":7},{"x":74,"y":92,"v":3},{"x":54,"y":96,"v":1},{"x":58,"y":96,"v":3},{"x":62,"y":96,"v":7},{"x":66,"y":96,"v":8},{"x":70,"y":96,"v":6},{"x":74,"y":96,"v":2},{"x":58,"y":100,"v":2},{"x":62,"y":100,"v":4},{"x":66,"y":100,"v":5},{"x":70,"y":100,"v":3},{"x":74,"y":100,"v":1},{"x":62,"y":104,"v":1},{"x":66,"y":104,"v":2},{"x":70,"y":104,"v":1}],
"bar":[{"v":0.1},{"v":0.3},{"v":0.5},{"v":0.7},{"v":0.9},{"v":1.1},{"v":1.3},{"v":1.5},{"v":1.7},{"v":1.9},{"v":2.1},{"v":2.3},{"v":2.5},{"v":2.7},{"v":2.9},{"v":3.1},{"v":3.3},{"v":3.5},{"v":3.7},{"v":3.9},{"v":4.1},{"v":4.3},{"v":4.5},{"v":4.7},{"v":4.9},{"v":5.1},{"v":5.3},{"v":5.5},{"v":5.7},{"v":5.9},{"v":6.1},{"v":6.3},{"v":6.5},{"v":6.7},{"v":6.9},{"v":7.1},{"v":7.3},{"v":7.5},{"v":7.7},{"v":7.9},{"v":8.1},{"v":8.3},{"v":8.5},{"v":8.7},{"v":8.9},{"v":9.1},{"v":9.3},{"v":9.5},{"v":9.7},{"v":9.9}]
},
"spacing":25,"hconcat":[
{"spacing":6,"bounds":"flush","vconcat":[
{"width":120,"height":145,"view":{"stroke":null},"title":"Ground Truth","encoding":{"x":{"field":"u","type":"quantitative","axis":null,"scale":{"domain":[0,120],"zero":false,"nice":false}},"y":{"field":"v","type":"quantitative","scale":{"domain":[0,145],"reverse":true,"nice":false},"axis":{"title":"3D surface","labels":false,"titleX":-18,"titleY":64}}},"layer":[
{"data":{"name":"grid"},"mark":{"type":"line","color":"#e6e6e6"},"encoding":{"detail":{"field":"k"}}},
{"data":{"name":"axes"},"mark":{"type":"line","color":"#aaaaaa","strokeWidth":0.8}},
{"data":{"name":"zlab"},"mark":{"type":"text","align":"right"},"encoding":{"text":{"field":"t"}}},
{"data":{"name":"lab1"},"mark":{"type":"text"},"encoding":{"text":{"field":"t"}}},
{"data":{"name":"cone"},"mark":{"type":"area","orient":"horizontal"},"encoding":{"x2":{"field":"u2"},"color":{"field":"s","scale":{"domain":["a","b"],"range":["#0000c0","#00007a"]}}}}
]},
{"spacing":18,"bounds":"flush","vconcat":[
{"width":120,"height":120,"view":{"fill":"#3c2ba1","stroke":"#a8a8c8"},"data":{"name":"ell"},"mark":{"type":"area","orient":"horizontal","color":"#f9f915"},"encoding":{"x":{"field":"x","type":"quantitative","title":null,"axis":{"values":[20,40,60,80,100,120]},"scale":{"domain":[0.5,128.5],"nice":false,"zero":false}},"x2":{"field":"x2"},"y":{"field":"y","type":"quantitative","axis":{"values":[20,40,60,80,100,120],"title":"X=64","titleX":-18,"titleY":62},"scale":{"domain":[0.5,128.5],"nice":false,"reverse":true,"zero":false}}}},
{"spacing":20,"bounds":"flush","vconcat":[
{"width":120,"height":120,"view":{"fill":"#3c2ba1","stroke":"#a8a8c8"},"data":{"name":"ty"},"mark":{"type":"area","orient":"horizontal","color":"#f9f915"},"encoding":{"x":{"field":"x","type":"quantitative","title":null,"axis":{"values":[20,40,60,80,100,120]},"scale":{"domain":[0.5,128.5],"nice":false,"zero":false}},"x2":{"field":"x2"},"y":{"field":"y","type":"quantitative","axis":{"values":[20,40,60,80,100,120],"title":"Y=64","titleX":-18,"titleY":62},"scale":{"domain":[0.5,128.5],"nice":false,"reverse":true,"zero":false}}}},
{"width":120,"height":120,"view":{"fill":"#3c2ba1","stroke":"#a8a8c8"},"data":{"name":"tz"},"mark":{"type":"area","orient":"horizontal","color":"#f9f915"},"encoding":{"x":{"field":"x","type":"quantitative","title":null,"axis":{"values":[20,40,60,80,100,120]},"scale":{"domain":[0.5,128.5],"nice":false,"zero":false}},"x2":{"field":"x2"},"y":{"field":"y","type":"quantitative","axis":{"values":[20,40,60,80,100,120],"title":"Z=64","titleX":-18,"titleY":58},"scale":{"domain":[0.5,128.5],"nice":false,"reverse":true,"zero":false}}}}
]}
]}
]},
{"spacing":21.5,"hconcat":[
{"spacing":6,"bounds":"flush","vconcat":[
{"width":120,"height":145,"view":{"stroke":null},"title":"GL-KZ","encoding":{"x":{"field":"u","type":"quantitative","axis":null,"scale":{"domain":[0,120],"zero":false,"nice":false}},"y":{"field":"v","type":"quantitative","axis":null,"scale":{"domain":[0,145],"reverse":true,"nice":false}}},"layer":[
{"data":{"name":"grid"},"mark":{"type":"line","color":"#e6e6e6"},"encoding":{"detail":{"field":"k"}}},
{"data":{"name":"axes"},"mark":{"type":"line","color":"#aaaaaa","strokeWidth":0.8}},
{"data":{"name":"zlab"},"mark":{"type":"text","align":"right"},"encoding":{"text":{"field":"t"}}},
{"data":{"name":"lab2"},"mark":{"type":"text"},"encoding":{"text":{"field":"t"}}},
{"data":{"name":"body2"},"mark":{"type":"area","orient":"horizontal","interpolate":"monotone"},"encoding":{"x2":{"field":"u2"},"color":{"field":"s","scale":{"domain":["a","b"],"range":["#0000c0","#00007a"]}}}},
{"data":{"name":"ridge2"},"mark":{"type":"line","color":"#00006a","strokeWidth":1.4},"encoding":{"detail":{"field":"k"}}}
]},
{"spacing":18,"bounds":"flush","vconcat":[
{"width":120,"height":120,"view":{"fill":"#3c2ba1","stroke":"#a8a8c8"},"data":{"name":"xg"},"mark":{"type":"rect","width":4,"height":4},"encoding":{"x":{"field":"x","type":"quantitative","title":null,"axis":{"values":[20,40,60,80,100,120]},"scale":{"domain":[0.5,128.5],"nice":false,"zero":false}},"y":{"field":"y","type":"quantitative","title":null,"axis":{"values":[20,40,60,80,100,120]},"scale":{"domain":[0.5,128.5],"nice":false,"reverse":true,"zero":false}},"color":{"field":"v","type":"quantitative","scale":{"domain":[0,10]}}}},
{"spacing":20,"bounds":"flush","vconcat":[
{"width":120,"height":120,"view":{"fill":"#3c2ba1","stroke":"#a8a8c8"},"data":{"name":"yg"},"mark":{"type":"rect","width":4,"height":4},"encoding":{"x":{"field":"x","type":"quantitative","title":null,"axis":{"values":[20,40,60,80,100,120]},"scale":{"domain":[0.5,128.5],"nice":false,"zero":false}},"y":{"field":"y","type":"quantitative","title":null,"axis":{"values":[20,40,60,80,100,120]},"scale":{"domain":[0.5,128.5],"nice":false,"reverse":true,"zero":false}},"color":{"field":"v","type":"quantitative","scale":{"domain":[0,10]}}}},
{"width":120,"height":120,"view":{"fill":"#3c2ba1","stroke":"#a8a8c8"},"data":{"name":"zg"},"mark":{"type":"rect","width":4,"height":4},"encoding":{"x":{"field":"x","type":"quantitative","title":null,"axis":{"values":[20,40,60,80,100,120]},"scale":{"domain":[0.5,128.5],"nice":false,"zero":false}},"y":{"field":"y","type":"quantitative","title":null,"axis":{"values":[20,40,60,80,100,120]},"scale":{"domain":[0.5,128.5],"nice":false,"reverse":true,"zero":false}},"color":{"field":"v","type":"quantitative","scale":{"domain":[0,10]}}}}
]}
]}
]},
{"spacing":-7,"hconcat":[
{"spacing":6,"bounds":"flush","vconcat":[
{"width":120,"height":145,"view":{"stroke":null},"title":"L2-KZ","encoding":{"x":{"field":"u","type":"quantitative","axis":null,"scale":{"domain":[-3,117],"zero":false,"nice":false}},"y":{"field":"v","type":"quantitative","axis":null,"scale":{"domain":[0,145],"reverse":true,"nice":false}}},"layer":[
{"data":{"name":"grid"},"mark":{"type":"line","color":"#e6e6e6"},"encoding":{"detail":{"field":"k"}}},
{"data":{"name":"axes"},"mark":{"type":"line","color":"#aaaaaa","strokeWidth":0.8}},
{"data":{"name":"zlab"},"mark":{"type":"text","align":"right"},"encoding":{"text":{"field":"t"}}},
{"data":{"name":"lab2"},"mark":{"type":"text"},"encoding":{"text":{"field":"t"}}},
{"data":{"name":"blobs"},"mark":{"type":"rect","cornerRadius":2.5,"color":"#0000b4","stroke":"#00006a","strokeWidth":0.6},"encoding":{"x2":{"field":"u2"},"y2":{"field":"v2"}}},
{"data":{"name":"body3"},"mark":{"type":"area","orient":"horizontal","interpolate":"monotone"},"encoding":{"x2":{"field":"u2"},"color":{"field":"s","scale":{"domain":["a","b"],"range":["#0000c0","#00007a"]}}}},
{"data":{"name":"ridge3"},"mark":{"type":"line","color":"#00006a","strokeWidth":1.4},"encoding":{"detail":{"field":"k"}}}
]},
{"spacing":18,"bounds":"flush","vconcat":[
{"width":120,"height":120,"view":{"fill":"#3c2ba1","stroke":"#a8a8c8"},"data":{"name":"xl"},"mark":{"type":"rect","width":4,"height":4},"encoding":{"x":{"field":"x","type":"quantitative","title":null,"axis":{"values":[20,40,60,80,100,120]},"scale":{"domain":[0.5,128.5],"nice":false,"zero":false}},"y":{"field":"y","type":"quantitative","title":null,"axis":{"values":[20,40,60,80,100,120]},"scale":{"domain":[0.5,128.5],"nice":false,"reverse":true,"zero":false}},"color":{"field":"v","type":"quantitative","scale":{"domain":[0,10]}}}},
{"spacing":20,"bounds":"flush","vconcat":[
{"width":120,"height":120,"view":{"fill":"#3c2ba1","stroke":"#a8a8c8"},"data":{"name":"yl"},"mark":{"type":"rect","width":4,"height":4},"encoding":{"x":{"field":"x","type":"quantitative","title":null,"axis":{"values":[20,40,60,80,100,120]},"scale":{"domain":[0.5,128.5],"nice":false,"zero":false}},"y":{"field":"y","type":"quantitative","title":null,"axis":{"values":[20,40,60,80,100,120]},"scale":{"domain":[0.5,128.5],"nice":false,"reverse":true,"zero":false}},"color":{"field":"v","type":"quantitative","scale":{"domain":[0,10]}}}},
{"width":120,"height":120,"view":{"fill":"#3c2ba1","stroke":"#a8a8c8"},"data":{"name":"zl"},"mark":{"type":"rect","width":4,"height":4},"encoding":{"x":{"field":"x","type":"quantitative","title":null,"axis":{"values":[20,40,60,80,100,120]},"scale":{"domain":[0.5,128.5],"nice":false,"zero":false}},"y":{"field":"y","type":"quantitative","title":null,"axis":{"values":[20,40,60,80,100,120]},"scale":{"domain":[0.5,128.5],"nice":false,"reverse":true,"zero":false}},"color":{"field":"v","type":"quantitative","scale":{"domain":[0,10]}}}}
]}
]}
]},
{"spacing":0,"bounds":"flush","vconcat":[
{"width":11,"height":169,"view":{"stroke":null},"data":{"values":[{"v":0}]},"mark":{"type":"rule","opacity":0},"encoding":{}},
{"width":11,"height":367,"view":{"stroke":"#777777"},"title":{"text":"Max","offset":2,"dx":3},"data":{"name":"bar"},"mark":{"type":"rect","width":11,"height":8,"clip":true},"encoding":{"x":{"datum":0,"type":"quantitative","scale":{"domain":[-1,1]},"axis":{"labels":false,"title":"Min","titlePadding":2}},"y":{"field":"v","type":"quantitative","scale":{"domain":[0,10],"nice":false},"axis":{"orient":"right","labels":false,"title":null,"ticks":true,"tickSize":-2,"tickColor":"#333","values":[2,4,6,8]}},"color":{"field":"v","type":"quantitative","scale":{"domain":[0,10]}}}}
]}
]}
]}
]}
